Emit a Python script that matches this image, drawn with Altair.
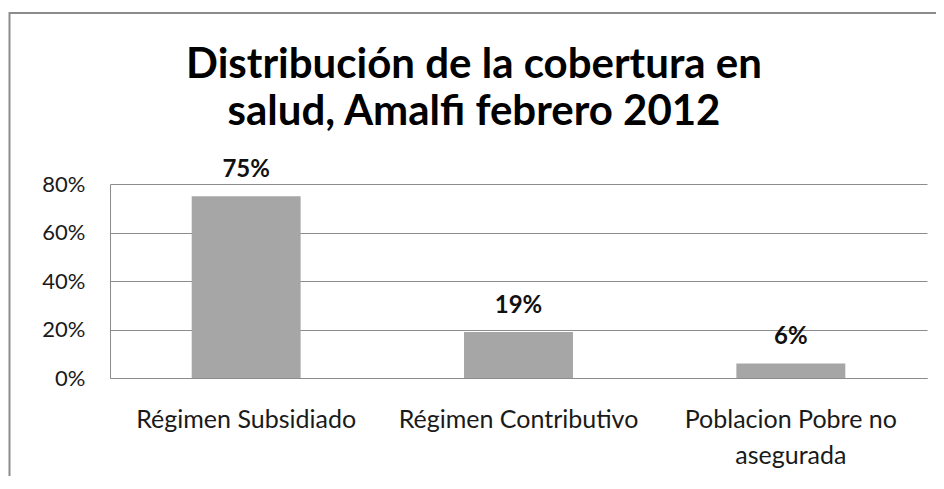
import altair as alt
import pandas as pd

categories = ["Régimen Subsidiado", "Régimen Contributivo", "Poblacion Pobre no asegurada"]
values = [0.75, 0.19, 0.06]
y_ticks = [0, 0.2, 0.4, 0.6, 0.8]
title_lines = ["Distribución de la cobertura en", "salud, Amalfi febrero 2012"]

df = pd.DataFrame({"cat": categories, "val": values})
one = pd.DataFrame({"k": [0]})

FONT = "Lato"
GRID = "#8c8c8c"

x_enc = alt.X(
    "cat:N",
    sort=categories,
    scale=alt.Scale(paddingInner=0.6, paddingOuter=0.3),
    axis=alt.Axis(
        title=None,
        labelAngle=0,
        ticks=False,
        domainColor=GRID,
        labelFont=FONT,
        labelFontSize=25,
        labelColor="#1a1a1a",
        labelPadding=29,
        labelLimit=400,
        labelLineHeight=36,
        labelBaseline="top",
        labelExpr="datum.value == 'Poblacion Pobre no asegurada' ? ['Poblacion Pobre no', 'asegurada'] : datum.value",
    ),
)

y_enc = alt.Y(
    "val:Q",
    scale=alt.Scale(domain=[0, 0.8], nice=False),
    axis=alt.Axis(
        title=None,
        values=y_ticks,
        format=".0%",
        ticks=False,
        domainColor=GRID,
        gridColor=GRID,
        labelFont=FONT,
        labelFontSize=22,
        labelColor="#1a1a1a",
        labelPadding=25,
    ),
)

bars = alt.Chart(df).mark_bar(color="#a6a6a6").encode(x=x_enc, y=y_enc)

labels = alt.Chart(df).mark_text(
    font=FONT, fontSize=24, fontWeight="bold", color="#111111", baseline="alphabetic", dy=-19
).encode(
    x=alt.X("cat:N", sort=categories),
    y="val:Q",
    text=alt.Text("val:Q", format=".0%"),
)

frame = alt.Chart(one).mark_rect(
    fill=None, stroke="#8c8c8c", strokeWidth=2
).encode(
    x=alt.value(-100.5), x2=alt.value(860), y=alt.value(-171), y2=alt.value(340)
)

title = alt.Chart(one).mark_text(
    font=FONT, fontSize=42, fontWeight="bold", color="#000000",
    align="center", baseline="alphabetic", lineHeight=47,
).encode(
    x=alt.value(364), y=alt.value(-106.5), text=alt.value(title_lines)
)

chart = alt.layer(frame, bars, labels, title).properties(
    width=817,
    height=194,
    autosize=alt.AutoSizeParams(type="none"),
    padding={"left": 102, "top": 176, "right": 9, "bottom": 98},
).configure_view(stroke=None).configure_axis(gridWidth=1, domainWidth=1)

chart.save("out.html", embed_options={"renderer": "svg", "actions": False})
